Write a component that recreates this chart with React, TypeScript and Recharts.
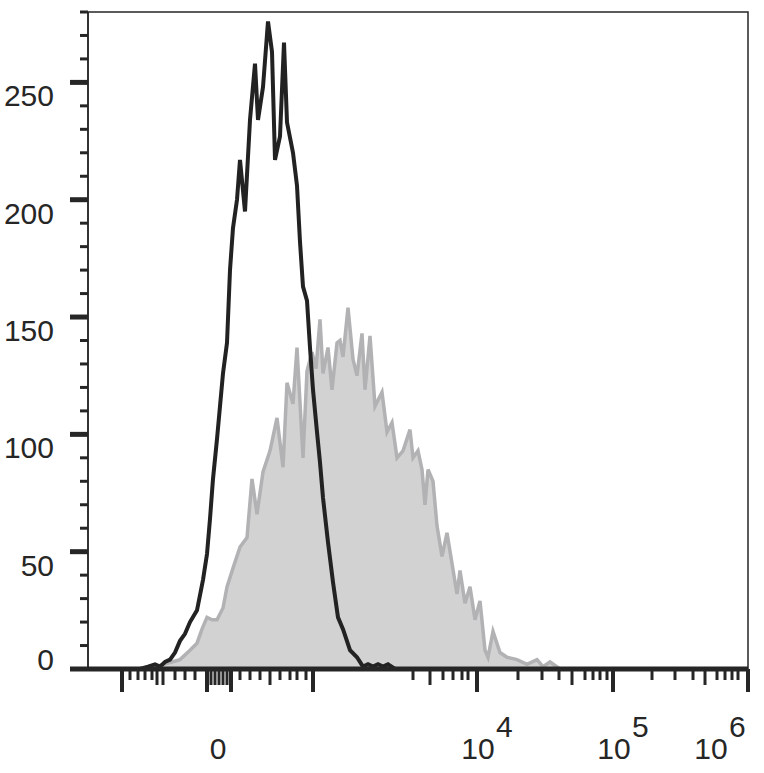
import React from "react";
import { ComposedChart, Area, Line, XAxis, YAxis, ReferenceArea } from "recharts";

// channel positions (display units along the biexponential axis) and event counts
const controlChannel = [
  0, 52, 60, 67, 72, 77, 82, 87, 92, 97, 102, 109, 115, 119, 122, 125, 129, 132,
  135, 139, 142, 145, 149, 152, 157, 162, 167, 170, 175, 180, 184, 187, 192, 196,
  199, 205, 209, 212, 215, 219, 222, 225, 229, 232, 235, 240, 245, 250, 255, 262,
  269, 275, 280, 285, 290, 295, 300, 307, 660,
];
const controlCount = [
  0, 0, 1, 2, 1, 3, 4, 7, 12, 15, 20, 25, 38, 49, 64, 81, 98, 112,
  126, 139, 170, 188, 200, 217, 195, 234, 258, 234, 248, 276, 263, 217, 227, 267,
  233, 220, 206, 182, 163, 157, 137, 119, 101, 88, 73, 54, 37, 22, 17, 8,
  5, 1, 2, 1, 2, 1, 2, 0, 0,
];

const stainedChannel = [
  0, 62, 75, 84, 92, 102, 109, 114, 119, 124, 129, 135, 139, 145, 152, 159, 164,
  169, 175, 182, 189, 195, 199, 205, 209, 215, 219, 224, 228, 232, 235, 240, 244,
  249, 252, 255, 260, 265, 269, 274, 277, 282, 287, 294, 299, 304, 309, 315, 322,
  325, 330, 334, 337, 340, 345, 349, 354, 359, 364, 369, 372, 377, 382, 387, 392,
  397, 400, 405, 412, 419, 429, 439, 449, 455, 462, 472, 660,
];
const stainedCount = [
  0, 0, 2, 3, 4, 8, 11, 17, 22, 21, 21, 26, 35, 43, 52, 56, 81,
  66, 84, 93, 107, 86, 122, 113, 137, 90, 127, 135, 128, 149, 126, 137, 119,
  139, 140, 133, 154, 132, 125, 143, 119, 142, 112, 118, 101, 105, 90, 93, 102,
  90, 93, 85, 70, 85, 80, 61, 48, 58, 45, 32, 42, 28, 35, 21, 29,
  8, 5, 16, 7, 5, 4, 2, 4, 1, 3, 0, 0,
];

const majorTicks = [34, 119, 143, 225, 389, 525, 660];
const mediumTicks = [69, 75, 123, 127, 131, 135, 139, 182, 342, 484, 617];
const minorTicks = [
  42, 50, 57, 64, 87, 97, 107, 152, 162, 172, 192, 202, 209, 218, 325, 355, 365,
  374, 380, 430, 454, 471, 497, 505, 512, 519, 564, 587, 605, 629, 637, 644, 650,
];
const decadeLabels = [
  { at: 131, base: "0", exp: "" },
  { at: 389, base: "10", exp: "4" },
  { at: 525, base: "10", exp: "5" },
  { at: 660, base: "10", exp: "6" },
];

const countTicks = [0, 10, 20, 30, 40, 50, 60, 70, 80, 90, 100, 110, 120, 130, 140, 150, 160, 170, 180, 190, 200, 210, 220, 230, 240, 250, 260, 270, 280];

const controlData = controlChannel.map((c, i) => ({ channel: c, control: controlCount[i] }));
const stainedData = stainedChannel.map((c, i) => ({ channel: c, stained: stainedCount[i] }));
const allTicks = [...majorTicks, ...mediumTicks, ...minorTicks].sort((a, b) => a - b);

const ink = "#262626";
const font = "'Liberation Sans', Arial, sans-serif";

function XTick(props: any) {
  const { x, y, payload } = props;
  const v = payload.value;
  const len = majorTicks.includes(v) ? 23 : mediumTicks.includes(v) ? 16 : 11;
  const w = majorTicks.includes(v) ? 4 : 3;
  const lab = decadeLabels.find((d) => d.at === v);
  let text = null;
  if (lab) {
    if (!lab.exp) {
      text = (
        <text x={x - 1} y={y + 90} textAnchor="middle" fontSize={30} fill={ink} fontFamily={font}>
          {lab.base}
        </text>
      );
    } else {
      const last = v === 660;
      const cx = last ? x - 37 : x + 1;
      text = (
        <g fontSize={30} fill={ink} fontFamily={font}>
          <text x={cx} y={y + 90} textAnchor="middle">{lab.base}</text>
          <text x={cx + 18} y={y + 68} textAnchor="start">{lab.exp}</text>
        </g>
      );
    }
  }
  return (
    <g>
      <line x1={x} x2={x} y1={y} y2={y + len} stroke={ink} strokeWidth={w} />
      {text}
    </g>
  );
}

function YTick(props: any) {
  const { x, y, payload } = props;
  const v = payload.value;
  const major = v % 50 === 0;
  return (
    <g>
      <line
        x1={major ? x - 18 : x - 8}
        x2={x}
        y1={y}
        y2={y}
        stroke={ink}
        strokeWidth={major ? 5 : 3}
      />
      {major && (
        <text
          x={x - 34}
          y={v === 0 ? y + 1 : y + 24}
          textAnchor="end"
          fontSize={30}
          fill={ink}
          fontFamily={font}
        >
          {v}
        </text>
      )}
    </g>
  );
}

export default function App() {
  return (
    <div style={{ position: "absolute", left: 0, top: 0, background: "#fff" }}>
      <ComposedChart width={764} height={773} margin={{ top: 12, right: 16, bottom: 0, left: 0 }}>
        <ReferenceArea x1={0} x2={660} y1={0} y2={280} fill="none" stroke={ink} strokeWidth={1.5} />
        <XAxis
          type="number"
          dataKey="channel"
          domain={[0, 660]}
          allowDataOverflow
          ticks={allTicks}
          interval={0}
          height={104}
          tickSize={0}
          tickMargin={0}
          tickLine={false}
          axisLine={{ stroke: ink, strokeWidth: 5 }}
          tick={<XTick />}
        />
        <YAxis
          type="number"
          domain={[0, 280]}
          ticks={countTicks}
          interval={0}
          width={88}
          tickSize={0}
          tickMargin={0}
          tickLine={false}
          axisLine={{ stroke: ink, strokeWidth: 1.5 }}
          tick={<YTick />}
        />
        <Area
          data={stainedData}
          dataKey="stained"
          type="linear"
          fill="#d2d2d2"
          fillOpacity={1}
          stroke="#b2b2b4"
          strokeWidth={3.5}
          isAnimationActive={false}
        />
        <Line
          data={controlData}
          dataKey="control"
          type="linear"
          stroke="#222"
          strokeWidth={4}
          dot={false}
          isAnimationActive={false}
        />
      </ComposedChart>
    </div>
  );
}
